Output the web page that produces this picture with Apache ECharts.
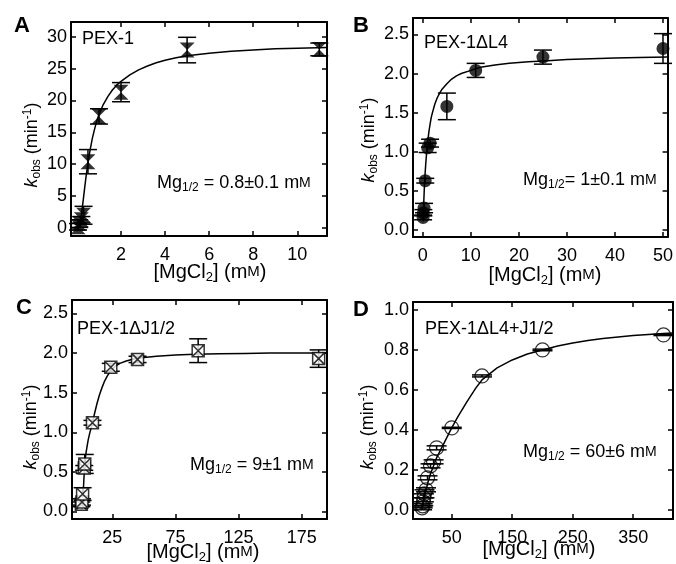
<!DOCTYPE html>
<html><head><meta charset="utf-8">
<script src="https://cdn.jsdelivr.net/npm/echarts@6/dist/echarts.min.js"></script>
<style>html,body{margin:0;padding:0;background:#fff}#c{width:676px;height:564px}</style>
</head><body><div id="c"></div>
<script>
// ---- Panel A: PEX-1 ----
const aX = [0.05, 0.1, 0.2, 0.3, 0.5, 1, 2, 5, 11];
const aY = [0.2, 0.7, 1.3, 2.0, 10.4, 17.5, 21.3, 27.9, 28.0];
const aErr = [0.5, 0.6, 0.5, 1.4, 1.9, 1.2, 1.5, 2.0, 1.0];
const aCurveX = [0.12, 0.16, 0.2, 0.25, 0.3, 0.35, 0.4, 0.45, 0.5, 0.6, 0.7, 0.8, 0.9, 1.0, 1.2, 1.4, 1.6, 1.8, 2.0, 2.4, 2.8, 3.2, 3.6, 4.0, 4.5, 5, 6, 7, 8, 9, 10, 11.35];
const aCurveY = [0, 1.0, 2.0, 3.4, 4.8, 6.3, 7.7, 9.0, 10.2, 12.3, 14.1, 15.5, 16.8, 17.8, 19.4, 20.6, 21.6, 22.4, 23.0, 24.0, 24.8, 25.4, 25.9, 26.3, 26.7, 27.0, 27.4, 27.7, 27.9, 28.1, 28.2, 28.3];
const aXTicks = [2, 4, 6, 8, 10];
const aYTicks = [0, 5, 10, 15, 20, 25, 30];

// ---- Panel B: PEX-1ΔL4 ----
const bX = [0.05, 0.1, 0.25, 0.5, 1, 1.5, 5, 11, 25, 50];
const bY = [0.16, 0.22, 0.28, 0.63, 1.05, 1.11, 1.58, 2.04, 2.21, 2.32];
const bErr = [0.03, 0.04, 0.06, 0.03, 0.06, 0.05, 0.17, 0.09, 0.09, 0.19];
const bCurveX = [0.05, 0.1, 0.15, 0.2, 0.3, 0.4, 0.5, 0.6, 0.75, 0.9, 1, 1.25, 1.5, 1.75, 2, 2.5, 3, 3.5, 4, 5, 6, 7, 8, 10, 12, 15, 18, 22, 26, 30, 35, 40, 45, 50.95];
const bCurveY = [0.11, 0.2, 0.29, 0.37, 0.52, 0.64, 0.75, 0.84, 0.96, 1.07, 1.12, 1.25, 1.35, 1.44, 1.5, 1.61, 1.69, 1.75, 1.8, 1.87, 1.93, 1.97, 2.0, 2.04, 2.08, 2.11, 2.13, 2.15, 2.165, 2.18, 2.19, 2.2, 2.205, 2.21];
const bXTicks = [0, 10, 20, 30, 40, 50];
const bYTicks = [0, 0.5, 1.0, 1.5, 2.0, 2.5];

// ---- Panel C: PEX-1ΔJ1/2 ----
const cX = [0.5, 1, 1.5, 2.8, 3.2, 9.3, 23.8, 45, 93, 188.4];
const cY = [0.09, 0.12, 0.22, 0.55, 0.6, 1.12, 1.82, 1.92, 2.03, 1.93];
const cErr = [0.03, 0.04, 0.08, 0.03, 0.12, 0.03, 0.05, 0.04, 0.15, 0.11];
const cCurveX = [0.5, 1, 1.5, 2, 2.5, 3, 4, 5, 6, 7, 8, 9.3, 11, 13, 15, 17, 19, 21, 23.8, 27, 31, 36, 42, 50, 60, 75, 90, 110, 130, 150, 170, 195];
const cCurveY = [0.02, 0.05, 0.12, 0.25, 0.4, 0.55, 0.72, 0.82, 0.91, 0.98, 1.04, 1.12, 1.24, 1.37, 1.48, 1.57, 1.65, 1.71, 1.78, 1.83, 1.87, 1.9, 1.925, 1.945, 1.96, 1.975, 1.985, 1.99, 1.995, 2.0, 2.0, 2.0];
const cXTicks = [25, 75, 125, 175];
const cYTicks = [0, 0.5, 1.0, 1.5, 2.0, 2.5];

// ---- Panel D: PEX-1ΔL4+J1/2 ----
const dX = [1, 2, 3, 4, 5, 7.5, 10, 15, 20, 25, 50, 100, 200, 400];
const dY = [0.01, 0.02, 0.04, 0.06, 0.08, 0.1, 0.16, 0.22, 0.24, 0.31, 0.41, 0.67, 0.80, 0.875];
const dErr = [0.01, 0.01, 0.02, 0.02, 0.02, 0.01, 0.01, 0.01, 0.01, 0.01, 0.003, 0.005, 0.004, 0.003];
const dCurveX = [1, 3, 5, 7.5, 10, 15, 20, 25, 30, 40, 50, 60, 75, 90, 100, 125, 150, 175, 200, 225, 250, 275, 300, 325, 350, 375, 400, 415.7];
const dCurveY = [0.012, 0.04, 0.065, 0.095, 0.13, 0.18, 0.22, 0.26, 0.29, 0.35, 0.41, 0.465, 0.54, 0.61, 0.65, 0.71, 0.75, 0.78, 0.80, 0.82, 0.835, 0.847, 0.857, 0.865, 0.872, 0.877, 0.882, 0.885];
const dXTicks = [50, 150, 250, 350];
const dYTicks = [0, 0.2, 0.4, 0.6, 0.8, 1.0];

const FONT = 'Liberation Sans, Arial, sans-serif';
const zip = (a, b) => a.map((v, i) => [v, b[i]]);
const errData = (x, y, e) => x.map((v, i) => [v, y[i] - e[i], y[i] + e[i]]);

const panels = [
  {grid: {left: 71, top: 22, width: 256, height: 214}, xr: [-0.27, 11.35], yr: [-1.25, 32.3],
   xt: aXTicks, yt: aYTicks, xf: v => String(v), yf: v => String(v),
   x: aX, y: aY, e: aErr, cx: aCurveX, cy: aCurveY,
   sym: 'path://M0,0L10,0L0,10L10,10Z', size: [15, 15], item: {color: '#000'}, cap: 9},
  {grid: {left: 413, top: 18, width: 258, height: 219}, xr: [-2.05, 50.95], yr: [-0.09, 2.71],
   xt: bXTicks, yt: bYTicks, xf: v => String(v), yf: v => v.toFixed(1),
   x: bX, y: bY, e: bErr, cx: bCurveX, cy: bCurveY,
   sym: 'circle', size: 13, item: {color: '#000'}, cap: 9},
  {grid: {left: 72, top: 300, width: 255, height: 219}, xr: [-6.9, 195], yr: [-0.095, 2.67],
   xt: cXTicks, yt: cYTicks, xf: v => String(v), yf: v => v.toFixed(1),
   x: cX, y: cY, e: cErr, cx: cCurveX, cy: cCurveY,
   sym: 'path://M0,0H10V10H0Z M0,0L10,10 M10,0L0,10', size: 12,
   item: {color: '#fff', borderColor: '#000', borderWidth: 1.5}, cap: 9},
  {grid: {left: 413, top: 302, width: 260, height: 217}, xr: [-14, 415.7], yr: [-0.046, 1.04],
   xt: dXTicks, yt: dYTicks, xf: v => String(v), yf: v => v.toFixed(1),
   x: dX, y: dY, e: dErr, cx: dCurveX, cy: dCurveY,
   sym: 'circle', size: 14, item: {color: 'rgba(0,0,0,0)', borderColor: '#000', borderWidth: 1.2}, cap: 10}
];

const grids = [], xAxes = [], yAxes = [], series = [];
function axis(gi, range, ticks, fmt, pos, showLabel) {
  return {
    type: 'value', gridIndex: gi, min: range[0], max: range[1], position: pos,
    axisLine: {show: true, onZero: false, lineStyle: {color: '#000', width: 2}},
    axisTick: {show: true, inside: true, length: 5, lineStyle: {color: '#000', width: 1.5}, customValues: ticks},
    axisLabel: {show: showLabel, customValues: ticks, formatter: fmt, color: '#000', fontSize: 18,
                fontFamily: FONT, margin: (pos === 'bottom') ? 10 : 4},
    splitLine: {show: false}
  };
}
function errRender(capHalf) {
  return function (params, api) {
    const x = api.value(0);
    const lo = api.coord([x, api.value(1)]);
    const hi = api.coord([x, api.value(2)]);
    const st = {stroke: '#000', lineWidth: 1.5};
    return {type: 'group', children: [
      {type: 'line', shape: {x1: lo[0], y1: lo[1], x2: hi[0], y2: hi[1]}, style: st},
      {type: 'line', shape: {x1: lo[0] - capHalf, y1: lo[1], x2: lo[0] + capHalf, y2: lo[1]}, style: st},
      {type: 'line', shape: {x1: hi[0] - capHalf, y1: hi[1], x2: hi[0] + capHalf, y2: hi[1]}, style: st}
    ]};
  };
}
panels.forEach((p, i) => {
  grids.push(Object.assign({containLabel: false}, p.grid));
  xAxes.push(axis(i, p.xr, p.xt, p.xf, 'bottom', true));
  xAxes.push(axis(i, p.xr, p.xt, p.xf, 'top', false));
  yAxes.push(axis(i, p.yr, p.yt, p.yf, 'left', true));
  yAxes.push(axis(i, p.yr, p.yt, p.yf, 'right', false));
  series.push({type: 'line', xAxisIndex: 2 * i, yAxisIndex: 2 * i, data: zip(p.cx, p.cy),
    smooth: false, symbol: 'none', lineStyle: {color: '#000', width: 1.5}, z: 2, silent: true});
  series.push({type: 'custom', xAxisIndex: 2 * i, yAxisIndex: 2 * i, data: errData(p.x, p.y, p.e),
    renderItem: errRender(p.cap), encode: {x: 0, y: [1, 2]}, z: 3, silent: true});
  series.push({type: 'scatter', xAxisIndex: 2 * i, yAxisIndex: 2 * i, data: zip(p.x, p.y),
    symbol: p.sym, symbolSize: p.size, itemStyle: p.item, z: 4, silent: true});
});

const rich = {
  n: {fontSize: 18, fontFamily: FONT, color: '#000'},
  i: {fontSize: 18, fontFamily: FONT, fontStyle: 'italic', color: '#000'},
  sub: {fontSize: 12, fontFamily: FONT, color: '#000', padding: [9, 0, 0, 0]},
  sup: {fontSize: 12, fontFamily: FONT, color: '#000', padding: [0, 0, 9, 0]},
  sc: {fontSize: 14, fontFamily: FONT, color: '#000'},
  N: {fontSize: 20, fontFamily: FONT, color: '#000'},
  SUB: {fontSize: 13, fontFamily: FONT, color: '#000', padding: [10, 0, 0, 0]},
  SC: {fontSize: 15, fontFamily: FONT, color: '#000'}
};
function txt(x, y, text, opts) {
  return Object.assign({type: 'text', x: x, y: y, silent: true,
    style: {text: text, rich: rich, fill: '#000', font: '18px ' + FONT, align: 'left', verticalAlign: 'middle'}}, opts || {});
}
function center(x, y, text, rot) {
  const t = txt(x, y, text);
  t.style.align = 'center';
  if (rot) t.rotation = Math.PI / 2;
  return t;
}
const xName = '{N|[MgCl}{SUB|2}{N|] (m}{SC|M}{N|)}';
const yName = '{i|k}{sub|obs}{n| (min}{sup|-1}{n|)}';
function letter(x, y, s) {
  return {type: 'text', x: x, y: y, silent: true,
    style: {text: s, fill: '#000', font: 'bold 22px ' + FONT, align: 'center', verticalAlign: 'middle'}};
}
const graphic = [
  letter(22, 26, 'A'), letter(361, 26, 'B'), letter(24, 308, 'C'), letter(361, 310, 'D'),
  txt(82, 39, '{n|PEX-1}'),
  txt(424, 43, '{n|PEX-1ΔL4}'),
  txt(77, 329, '{n|PEX-1ΔJ1/2}'),
  txt(425, 329, '{n|PEX-1ΔL4+J1/2}'),
  txt(157, 183, '{n|Mg}{sub|1/2}{n| = 0.8±0.1 m}{sc|M}'),
  txt(523, 180, '{n|Mg}{sub|1/2}{n|= 1±0.1 m}{sc|M}'),
  txt(190, 465, '{n|Mg}{sub|1/2}{n| = 9±1 m}{sc|M}'),
  txt(523, 452, '{n|Mg}{sub|1/2}{n| = 60±6 m}{sc|M}'),
  center(210, 272, xName), center(545, 275, xName), center(203, 552, xName), center(539, 549, xName),
  center(32, 145, yName, true), center(369, 140, yName, true), center(31, 427, yName, true), center(368, 427, yName, true)
];

const chart = echarts.init(document.getElementById('c'), null, {renderer: 'canvas'});
chart.setOption({animation: false, backgroundColor: '#fff', grid: grids, xAxis: xAxes, yAxis: yAxes, series: series, graphic: graphic});
</script></body></html>
